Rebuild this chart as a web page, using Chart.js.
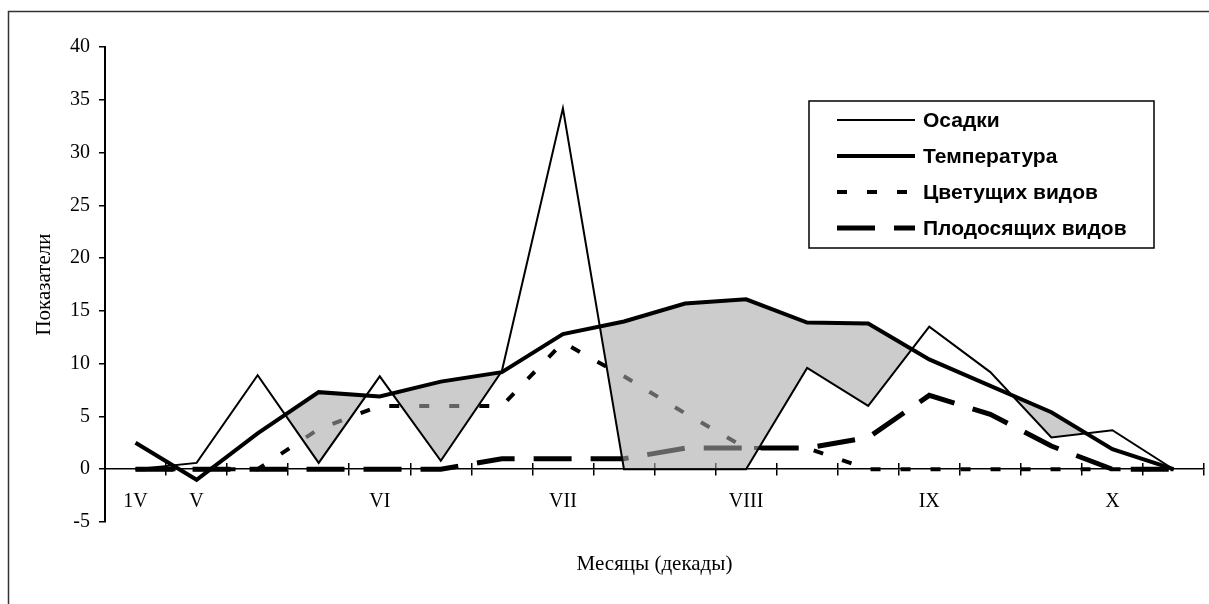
<!DOCTYPE html>
<html>
<head>
<meta charset="utf-8">
<script src="https://cdn.jsdelivr.net/npm/chart.js@4.4.1/dist/chart.umd.min.js"></script>
<style>
  html, body { margin: 0; padding: 0; background: #fff; }
  #wrap { width: 1209px; height: 604px; position: relative; }
</style>
</head>
<body>
<div id="wrap"><canvas id="grafico" width="1209" height="604"></canvas></div>
<script>
// Декады с апреля по октябрь
const dekady = ["1V", "V", "", "", "VI", "", "", "VII", "", "", "VIII", "", "", "IX", "", "", "X", ""];

const osadki = [0, 0.6, 8.9, 0.6, 8.8, 0.8, 9.3, 34.2, 0, 0, 0, 9.6, 6, 13.5, 9.2, 3, 3.7, 0];
const temperatura = [2.5, -1, 3.4, 7.3, 6.9, 8.3, 9.2, 12.8, 14, 15.7, 16.1, 13.9, 13.8, 10.4, 7.9, 5.4, 1.9, 0];
const cvetuschie = [0, 0, 0, 3.8, 6, 6, 6, 12, 8.8, 5.3, 2, 2, 0, 0, 0, 0, 0, 0];
const plodosyaschie = [0, 0, 0, 0, 0, 0, 1, 1, 1, 2, 2, 2, 3, 7, 5.2, 2.2, 0, 0];
// верхняя граница заштрихованной засушливой области (с мая)
const zasuha = [null, null, 3.4, 7.3, 6.9, 8.3, 9.2, 12.8, 14, 15.7, 16.1, 13.9, 13.8, 10.4, 7.9, 5.4, 1.9, 0];

const fuenteSerif = "'Liberation Serif', 'Times New Roman', serif";

// рамка вокруг диаграммы
const marco = {
  id: "marco",
  beforeDraw(chart) {
    const ctx = chart.ctx;
    ctx.save();
    ctx.strokeStyle = "#333";
    ctx.lineWidth = 1.5;
    ctx.strokeRect(8.5, 11.5, chart.width + 20, chart.height + 20);
    ctx.restore();
  },
};

// легенда в рамке внутри области построения
const leyendaCaja = {
  id: "leyendaCaja",
  afterDraw(chart) {
    const ctx = chart.ctx;
    const caja = { x: 809, y: 101, w: 345, h: 147 };
    ctx.save();
    ctx.fillStyle = "#fff";
    ctx.fillRect(caja.x, caja.y, caja.w, caja.h);
    ctx.strokeStyle = "#000";
    ctx.lineWidth = 1.5;
    ctx.strokeRect(caja.x, caja.y, caja.w, caja.h);
    const items = chart.data.datasets.filter((ds) => !ds.sinLeyenda);
    items.forEach((ds, i) => {
      const y = caja.y + 19 + i * 36;
      ctx.beginPath();
      ctx.setLineDash(ds.borderDash || []);
      ctx.lineWidth = ds.borderWidth;
      ctx.lineCap = "butt";
      ctx.strokeStyle = "#000";
      ctx.moveTo(caja.x + 28, y);
      ctx.lineTo(caja.x + 106, y);
      ctx.stroke();
      ctx.setLineDash([]);
      ctx.fillStyle = "#000";
      ctx.font = "bold 21px 'Liberation Sans', Arial, sans-serif";
      ctx.textBaseline = "middle";
      ctx.fillText(ds.label, caja.x + 114, y + 1);
    });
    ctx.restore();
  },
};

const ctx = document.getElementById("grafico").getContext("2d");

new Chart(ctx, {
  type: "line",
  data: {
    labels: dekady,
    datasets: [
      {
        label: "Осадки",
        data: osadki,
        borderColor: "#000",
        borderWidth: 2,
        pointRadius: 0,
        order: 0,
      },
      {
        label: "Температура",
        data: temperatura,
        borderColor: "#000",
        borderWidth: 4,
        pointRadius: 0,
        order: 1,
      },
      {
        label: "Засушливый период",
        sinLeyenda: true,
        data: zasuha,
        borderColor: "rgba(0,0,0,0)",
        borderWidth: 0,
        pointRadius: 0,
        order: 1.5,
        // температура выше осадков
        fill: { target: 0, above: "rgba(169,169,169,0.59)", below: "rgba(0,0,0,0)" },
      },
      {
        label: "Цветущих видов",
        data: cvetuschie,
        borderColor: "#000",
        borderWidth: 4,
        borderDash: [10, 20],
        borderCapStyle: "butt",
        pointRadius: 0,
        order: 2,
      },
      {
        label: "Плодосящих видов",
        data: plodosyaschie,
        borderColor: "#000",
        borderWidth: 5,
        borderDash: [38, 19],
        borderCapStyle: "butt",
        pointRadius: 0,
        order: 3,
      },
    ],
  },
  options: {
    responsive: false,
    animation: false,
    devicePixelRatio: 1,
    layout: { padding: { left: 8, top: 47, right: 5, bottom: 0 } },
    elements: { line: { tension: 0, borderJoinStyle: "miter" } },
    plugins: {
      legend: { display: false },
      tooltip: { enabled: false },
    },
    scales: {
      x: {
        type: "category",
        position: "bottom",
        offset: true,
        grid: { display: false },
        border: { display: false },
        ticks: { display: false },
        title: {
          display: true,
          text: "Месяцы (декады)",
          color: "#000",
          font: { family: fuenteSerif, size: 21 },
          padding: { top: 0, bottom: 27 },
        },
        afterFit: (scale) => {
          scale.height = 82;
        },
      },
      x2: {
        type: "category",
        position: { y: 0 },
        offset: true,
        grid: {
          display: true,
          offset: true,
          drawOnChartArea: false,
          drawTicks: true,
          tickLength: 6,
          color: "#000",
          lineWidth: 1.5,
        },
        border: { display: true, color: "#000", width: 1.5 },
        ticks: {
          autoSkip: false,
          maxRotation: 0,
          padding: 15,
          color: "#000",
          font: { family: fuenteSerif, size: 20 },
        },
      },
      // верхняя половина засечек на оси категорий
      x3: {
        type: "category",
        position: { y: 0 },
        offset: true,
        grid: {
          display: true,
          offset: true,
          drawOnChartArea: false,
          drawTicks: true,
          tickLength: -6,
          color: "#000",
          lineWidth: 1.5,
        },
        border: { display: false },
        ticks: { display: false },
      },
      y: {
        min: -5,
        max: 40,
        ticks: {
          stepSize: 5,
          padding: 9,
          color: "#000",
          font: { family: fuenteSerif, size: 20 },
        },
        grid: {
          display: true,
          drawOnChartArea: false,
          drawTicks: true,
          tickLength: 6,
          color: "#000",
          lineWidth: 1.5,
        },
        border: { display: true, color: "#000", width: 2 },
        title: {
          display: true,
          text: "Показатели",
          color: "#000",
          font: { family: fuenteSerif, size: 21 },
          padding: { top: 24, bottom: 0 },
        },
        afterFit: (scale) => {
          scale.width = 97;
        },
      },
    },
  },
  plugins: [marco, leyendaCaja],
});
</script>
</body>
</html>
